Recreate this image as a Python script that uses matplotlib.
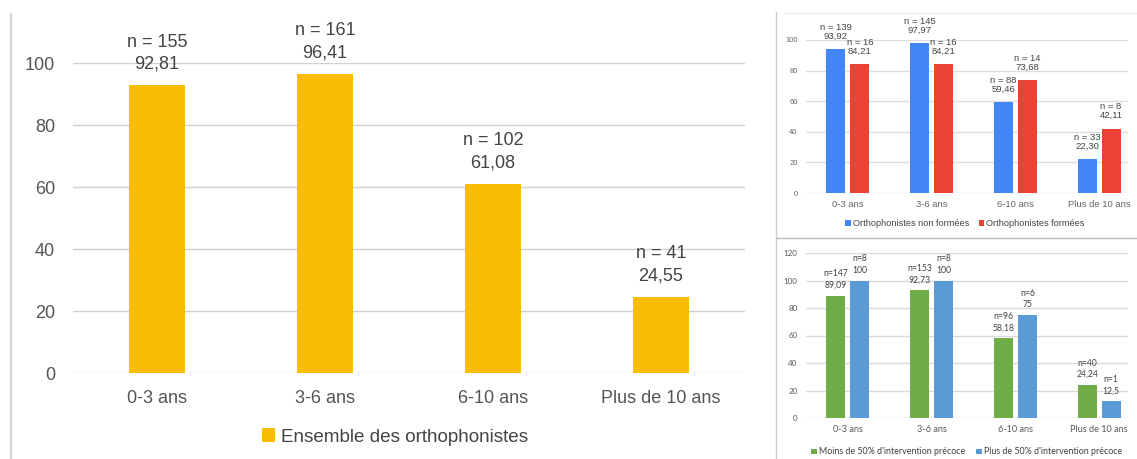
import matplotlib.pyplot as plt
import numpy as np
from matplotlib.lines import Line2D

# Data
categories = ["0-3 ans", "3-6 ans", "6-10 ans", "Plus de 10 ans"]

main_values = [92.81, 96.41, 61.08, 24.55]
main_n = [155, 161, 102, 41]

non_formees = [93.92, 97.97, 59.46, 22.30]
non_formees_n = [139, 145, 88, 33]
formees = [84.21, 84.21, 73.68, 42.11]
formees_n = [16, 16, 14, 8]

moins_50 = [89.09, 92.73, 58.18, 24.24]
moins_50_n = [147, 153, 96, 40]
plus_50 = [100, 100, 75, 12.5]
plus_50_n = [8, 8, 6, 1]

W, H = 1137, 459
fig = plt.figure(figsize=(W / 100, H / 100), dpi=100)


def box(x0, x1, y_top, y_bot):
    # pixel coords -> figure fraction
    return [x0 / W, 1 - y_bot / H, (x1 - x0) / W, (y_bot - y_top) / H]


def style_axis(ax, fs, color, grid_color):
    for s in ax.spines.values():
        s.set_visible(False)
    ax.tick_params(axis="both", length=0, labelsize=fs, colors=color)
    ax.yaxis.grid(True, color=grid_color, lw=1)
    ax.set_axisbelow(True)


def fmt(v, spec):
    return format(v, spec).replace(".", ",")


x = np.arange(len(categories))

# ---- Main chart ----
ax = fig.add_axes(box(73, 745, 63, 373))
ax.bar(x, main_values, width=0.33, color="#FBBC04", label="Ensemble des orthophonistes")
for xi, v, n in zip(x, main_values, main_n):
    ax.annotate(f"n = {n}\n{fmt(v, '.2f')}", xy=(xi, v), xytext=(0, 9),
                textcoords="offset points", ha="center", va="bottom",
                fontsize=13, color="#444444", linespacing=1.4,
                family="Liberation Sans", annotation_clip=False)
ax.set_xlim(-0.5, 3.5)
ax.set_ylim(0, 100)
ax.set_yticks([0, 20, 40, 60, 80, 100])
ax.set_xticks(x, categories)
style_axis(ax, 13, "#555555", "#d0d0d0")
ax.tick_params(axis="y", pad=13)
ax.tick_params(axis="x", pad=12)
for t in ax.get_xticklabels() + ax.get_yticklabels():
    t.set_family("Liberation Sans")
ax.legend(loc="center", bbox_to_anchor=(395 / W, 1 - 437 / H), bbox_transform=fig.transFigure,
          frameon=False, handlelength=0.7, handleheight=0.7, handletextpad=0.3,
          prop={"family": "Liberation Sans", "size": 13.6}, labelcolor="#444444")

# ---- Top right chart ----
w, off = 0.226, 0.143
ax2 = fig.add_axes(box(806, 1128, 40, 193))
ax2.bar(x - off, non_formees, width=w, color="#4285F4", label="Orthophonistes non formées")
ax2.bar(x + off, formees, width=w, color="#EA4335", label="Orthophonistes formées")
for xi, v, n in zip(x - off, non_formees, non_formees_n):
    ax2.annotate(f"n = {n}\n{fmt(v, '.2f')}", xy=(xi, v), xytext=(0, 6),
                 textcoords="offset points", ha="center", va="bottom",
                 fontsize=6.8, color="#444444", linespacing=1.0,
                 family="Liberation Sans", annotation_clip=False)
for xi, v, n in zip(x + off, formees, formees_n):
    ax2.annotate(f"n = {n}\n{fmt(v, '.2f')}", xy=(xi, v), xytext=(0, 6),
                 textcoords="offset points", ha="center", va="bottom",
                 fontsize=6.8, color="#444444", linespacing=1.0,
                 family="Liberation Sans", annotation_clip=False)
ax2.set_xlim(-0.5, 3.345)
ax2.set_ylim(0, 100)
ax2.set_yticks([0, 20, 40, 60, 80, 100])
ax2.set_xticks(x, categories)
style_axis(ax2, 5.5, "#666666", "#dddddd")
ax2.tick_params(axis="y", pad=6)
ax2.tick_params(axis="x", pad=5)
for t in ax2.get_xticklabels():
    t.set_fontsize(6.8)
for t in ax2.get_xticklabels() + ax2.get_yticklabels():
    t.set_family("Liberation Sans")
ax2.legend(loc="center", bbox_to_anchor=(965 / W, 1 - 224 / H), bbox_transform=fig.transFigure,
           ncol=2, frameon=False, handlelength=0.6, handleheight=0.6, handletextpad=0.25,
           columnspacing=1.0, prop={"family": "Liberation Sans", "size": 6.6},
           labelcolor="#444444")

# ---- Bottom right chart ----
ax3 = fig.add_axes(box(806, 1128, 253, 418))
ax3.bar(x - off, moins_50, width=w, color="#70AD47", label="Moins de 50% d'intervention précoce")
ax3.bar(x + off, plus_50, width=w, color="#5B9BD5", label="Plus de 50% d'intervention précoce")
for xi, v, n in zip(x - off, moins_50, moins_50_n):
    ax3.annotate(f"n={n}\n{fmt(v, 'g')}", xy=(xi, v), xytext=(0, 4),
                 textcoords="offset points", ha="center", va="bottom",
                 fontsize=6.2, color="#404040", linespacing=1.35,
                 family="Lato", annotation_clip=False)
for xi, v, n in zip(x + off, plus_50, plus_50_n):
    ax3.annotate(f"n={n}\n{fmt(v, 'g')}", xy=(xi, v), xytext=(0, 4),
                 textcoords="offset points", ha="center", va="bottom",
                 fontsize=6.2, color="#404040", linespacing=1.35,
                 family="Lato", annotation_clip=False)
ax3.set_xlim(-0.5, 3.345)
ax3.set_ylim(0, 120)
ax3.set_yticks([0, 20, 40, 60, 80, 100, 120])
ax3.set_xticks(x, categories)
style_axis(ax3, 5.8, "#595959", "#d9d9d9")
ax3.tick_params(axis="y", pad=6)
ax3.tick_params(axis="x", pad=5)
for t in ax3.get_xticklabels():
    t.set_fontsize(6.6)
for t in ax3.get_xticklabels() + ax3.get_yticklabels():
    t.set_family("Lato")
ax3.legend(loc="center", bbox_to_anchor=(967 / W, 1 - 452 / H), bbox_transform=fig.transFigure,
           ncol=2, frameon=False, handlelength=0.6, handleheight=0.6, handletextpad=0.3,
           columnspacing=1.2, prop={"family": "Lato", "size": 6.4},
           labelcolor="#404040")

# Panel borders
fig.add_artist(Line2D([11 / W, 11 / W], [0, 1 - 14 / H], color="#d5d5d5", lw=1.5))
fig.add_artist(Line2D([776 / W, 776 / W], [0, 1 - 12 / H], color="#cccccc", lw=1))
fig.add_artist(Line2D([785 / W, 1], [1 - 13 / H, 1 - 13 / H], color="#eeeeee", lw=1))
fig.add_artist(Line2D([776 / W, 1], [1 - 238 / H, 1 - 238 / H], color="#bbbbbb", lw=1))

fig.savefig("out.png", dpi=100)
